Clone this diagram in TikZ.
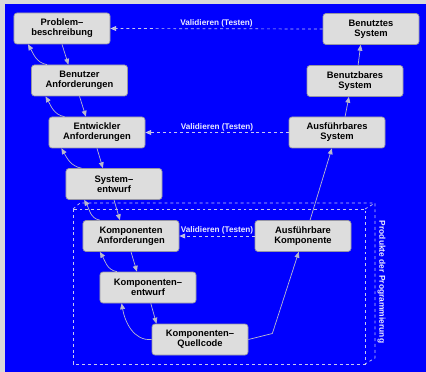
\documentclass[tikz,border=0pt]{standalone}
\usepackage{fontspec}
\setmainfont{Liberation Sans}
\usepackage{tikz}
\usetikzlibrary{arrows.meta}
\definecolor{bggray}{RGB}{217,217,217}
\definecolor{bgblue}{RGB}{0,0,255}
\definecolor{boxfill}{RGB}{221,221,221}
\definecolor{boxline}{RGB}{150,150,165}
\definecolor{arrowgray}{RGB}{185,185,205}
\definecolor{dashcol}{RGB}{200,200,240}
\definecolor{labelcol}{RGB}{235,235,255}

\begin{document}
\begin{tikzpicture}[x=0.03cm,y=-0.03cm,
		box/.style={draw=boxline,line width=0.6pt,fill=boxfill,rounded corners=0.09cm,minimum width=2.88cm,minimum height=0.93cm,inner sep=0pt,align=center,font=\bfseries\fontsize{8}{8.6}\selectfont},
		pfeil/.style={draw=arrowgray,line width=0.6pt,-{Triangle[length=5pt,width=4.2pt,fill=arrowgray]}},
		valid/.style={pfeil,draw=dashcol,dash pattern=on 2.5pt off 2.5pt},
		dashbox/.style={draw=dashcol,line width=0.6pt,dash pattern=on 2.5pt off 2.5pt},
		vlabel/.style={text=labelcol,inner sep=1pt,font=\bfseries\fontsize{7}{8}\selectfont}]
		\fill[bggray] (0,0) rectangle (426,372);
		\fill[bgblue] (5,4) rectangle (426,372);
		\useasboundingbox (0,0) rectangle (426,372);
		\draw[dashbox] (73,209) rectangle (365,364);
		\draw[dashbox] (73,209) -- (80,203) -- (375,203) -- (375,358) -- (365,364);
		\draw[dashbox] (365,209) -- (375,203);
		\node[vlabel,rotate=-90,font=\bfseries\fontsize{7.2}{8}\selectfont] (prodlabel) at (381.5,282) {Produkte der Programmierung};
		\node[box] (prob) at (62,28.5) {Problem–\\beschreibung};
		\node[box] (benanf) at (79.5,80.5) {Benutzer\\Anforderungen};
		\node[box] (entanf) at (97,132.5) {Entwickler\\Anforderungen};
		\node[box] (sysent) at (114,184) {System–\\entwurf};
		\node[box] (komanf) at (131,236) {Komponenten\\Anforderungen};
		\node[box] (koment) at (148,287.5) {Komponenten–\\entwurf};
		\node[box] (komqc) at (200,339.5) {Komponenten–\\Quellcode};
		\node[box] (ausko) at (303,236) {Ausführbare\\Komponente};
		\node[box] (aussys) at (337,132.5) {Ausführbares\\System};
		\node[box] (bensys) at (355,81) {Benutzbares\\System};
		\node[box] (bentsys) at (371,29) {Benutztes\\System};
		\draw[pfeil] (prob.south) -- (benanf.125);
		\draw[pfeil] (benanf.south) -- (entanf.125);
		\draw[pfeil] (entanf.south) -- (sysent.125);
		\draw[pfeil] (sysent.south) -- (komanf.125);
		\draw[pfeil] (komanf.south) -- (koment.125);
		\draw[pfeil] (koment.-80) -- (komqc.160);
		\draw[pfeil] (benanf.154) to[out=170,in=-60] (prob.205);
		\draw[pfeil] (entanf.154) to[out=170,in=-60] (benanf.205);
		\draw[pfeil] (sysent.154) to[out=170,in=-60] (entanf.204);
		\draw[pfeil] (komanf.153) to[out=170,in=-60] (sysent.208);
		\draw[pfeil] (koment.153) to[out=170,in=-60] (komanf.207);
		\draw[pfeil] (komqc.west) to[out=185,in=-80] (koment.211);
		\draw[pfeil] (komqc.east) -- ++(24,-6) -- (ausko.255);
		\draw[pfeil] (ausko.66) -- (aussys.252);
		\draw[pfeil] (aussys.63) -- (bensys.249);
		\draw[pfeil] (bensys.79) -- (bentsys.237);
		\draw[valid] (bentsys.west) -- node[vlabel,above] (vtop) {Validieren (Testen)} (prob.east);
		\draw[valid] (aussys.west) -- node[vlabel,above] (vmid) {Validieren (Testen)} (entanf.east);
		\draw[valid] (ausko.west) -- node[vlabel,above] (vlow) {Validieren (Testen)} (komanf.east);
\end{tikzpicture}
\end{document}
